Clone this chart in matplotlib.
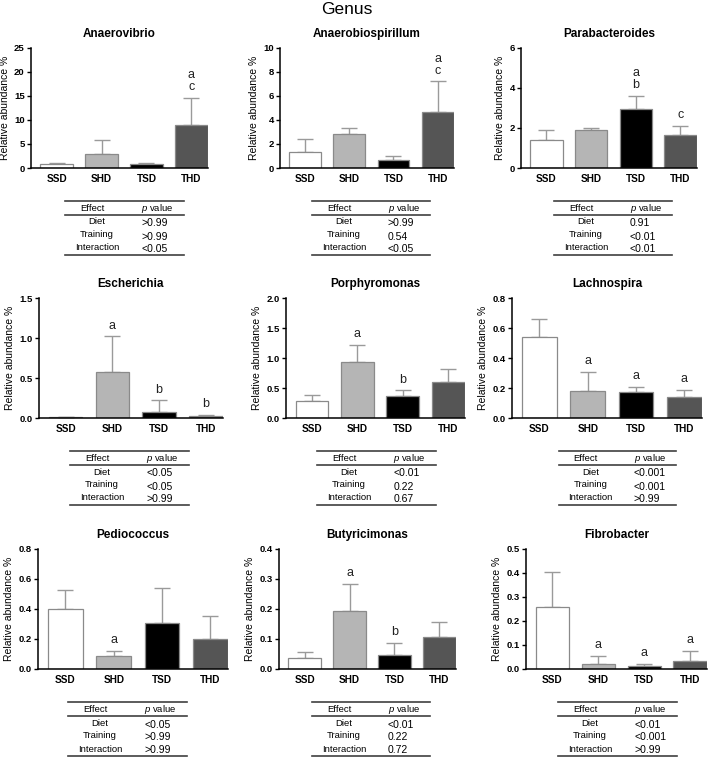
import numpy as np
import matplotlib
matplotlib.use("Agg")
import matplotlib.pyplot as plt
from matplotlib.lines import Line2D

plt.rcParams['font.family'] = ['Liberation Sans', 'DejaVu Sans']
plt.rcParams['mathtext.fontset'] = 'custom'
plt.rcParams['mathtext.it'] = 'Liberation Sans:italic'
plt.rcParams['mathtext.rm'] = 'Liberation Sans'

# ---- data ----
groups = ['SSD', 'SHD', 'TSD', 'THD']
genera = ['Anaerovibrio', 'Anaerobiospirillum', 'Parabacteroides',
          'Escherichia', 'Porphyromonas', 'Lachnospira',
          'Pediococcus', 'Butyricimonas', 'Fibrobacter']

means = [
    [0.8, 2.9, 0.85, 9.0],
    [1.35, 2.8, 0.65, 4.65],
    [1.4, 1.9, 2.92, 1.63],
    [0.01, 0.58, 0.08, 0.02],
    [0.28, 0.93, 0.37, 0.60],
    [0.54, 0.18, 0.175, 0.14],
    [0.40, 0.088, 0.305, 0.20],
    [0.037, 0.195, 0.048, 0.108],
    [0.26, 0.022, 0.012, 0.035],
]
sems = [
    [0.2, 2.95, 0.1, 5.5],
    [1.05, 0.5, 0.35, 2.55],
    [0.48, 0.1, 0.68, 0.45],
    [0.005, 0.44, 0.14, 0.02],
    [0.11, 0.29, 0.09, 0.21],
    [0.12, 0.125, 0.035, 0.05],
    [0.125, 0.03, 0.235, 0.155],
    [0.02, 0.09, 0.04, 0.049],
    [0.145, 0.033, 0.01, 0.04],
]
letters = [
    ['', '', '', 'a\nc'],
    ['', '', '', 'a\nc'],
    ['', '', 'a\nb', 'c'],
    ['', 'a', 'b', 'b'],
    ['', 'a', 'b', ''],
    ['', 'a', 'a', 'a'],
    ['', 'a', '', ''],
    ['', 'a', 'b', ''],
    ['', 'a', 'a', 'a'],
]
ymax = [25, 10, 6, 1.5, 2.0, 0.8, 0.8, 0.4, 0.5]
ystep = [5, 2, 2, 0.5, 0.5, 0.2, 0.2, 0.1, 0.1]

effects = ['Diet', 'Training', 'Interaction']
pvalues = [
    ['>0.99', '>0.99', '<0.05'],
    ['>0.99', '0.54', '<0.05'],
    ['0.91', '<0.01', '<0.01'],
    ['<0.05', '<0.05', '>0.99'],
    ['<0.01', '0.22', '0.67'],
    ['<0.001', '<0.001', '>0.99'],
    ['<0.05', '>0.99', '>0.99'],
    ['<0.01', '0.22', '0.72'],
    ['<0.01', '<0.001', '>0.99'],
]

bar_colors = ['white', '#b5b5b5', '#000000', '#555555']

# ---- layout (pixels in a 709x757 canvas) ----
W, H = 709, 757
ax_x = [(31, 208), (280, 454), (521, 697),
        (39, 223), (286, 465), (512, 702),
        (38, 228), (279, 456), (526, 707)]
row_y = [(47.7, 168), (298, 418), (549, 669)]
tab_x = [(65, 184), (312, 430), (554, 672),
         (70, 189), (317, 436), (559, 676),
         (68, 187), (312, 430), (558, 677)]
tab_top = [201, 451, 702]

fig = plt.figure(figsize=(W / 100, H / 100), dpi=100)


def fx(px):
    return px / W


def fy(py):
    return 1 - py / H


fig.text(fx(347), fy(10), 'Genus', ha='center', va='center', fontsize=12.5)

for i, name in enumerate(genera):
    r = i // 3
    x0, x1 = ax_x[i]
    yt, yz = row_y[r]
    ax = fig.add_axes([fx(x0), fy(yz), (x1 - x0) / W, (yz - yt) / H])
    x = np.arange(len(groups))
    ax.bar(x, means[i], width=0.72, color=bar_colors, edgecolor='#8a8a8a',
           linewidth=0.9, zorder=2)
    ax.errorbar(x, means[i], yerr=[np.zeros(4), sems[i]], fmt='none',
                ecolor='#9a9a9a', elinewidth=1.0, capsize=5.5, capthick=1.0,
                zorder=1)
    for j, lab in enumerate(letters[i]):
        if lab:
            ax.annotate(lab, (x[j], means[i][j] + sems[i][j]),
                        xytext=(0, 3.5), textcoords='offset points',
                        ha='center', va='bottom', fontsize=9,
                        linespacing=1.0, color='#222222')
    ax.set_xlim(-0.57, 3.37)
    ax.set_ylim(0, ymax[i])
    ticks = np.arange(0, ymax[i] + ystep[i] / 2, ystep[i])
    ax.set_yticks(ticks)
    if ystep[i] >= 1:
        ax.set_yticklabels(['%d' % t for t in ticks])
    else:
        ax.set_yticklabels(['%.1f' % t for t in ticks])
    ax.set_xticks(x)
    ax.set_xticklabels(groups, fontweight='bold', fontsize=7.2)
    for t in ax.get_yticklabels():
        t.set_fontweight('bold')
        t.set_fontsize(6.8)
    ax.spines['top'].set_visible(False)
    ax.spines['right'].set_visible(False)
    ax.spines['left'].set_linewidth(1.1)
    ax.spines['bottom'].set_linewidth(1.1)
    ax.tick_params(axis='y', length=3, width=1, pad=1.5)
    ax.tick_params(axis='x', length=0, pad=4)
    ax.set_ylabel('Relative abundance %', fontsize=7.5, labelpad=3)
    ax.set_title(name, fontsize=8.5, fontweight='bold', pad=8)

    # p value table under each panel
    tx0, tx1 = tab_x[i]
    T = tab_top[r]
    tw = tx1 - tx0
    for yy in (T, T + 14, T + 54):
        fig.add_artist(Line2D([fx(tx0), fx(tx1)], [fy(yy), fy(yy)],
                              color='#404040', linewidth=1.2))
    fig.text(fx(tx0 + 0.23 * tw), fy(T + 7.3), 'Effect', ha='center',
             va='center', fontsize=6.8)
    fig.text(fx(tx0 + 0.64 * tw), fy(T + 7.3), r'$\it{p}$ value', ha='left',
             va='center', fontsize=6.8)
    lab_y = [T + 21, T + 33.5, T + 47]
    val_y = [T + 22.5, T + 35.5, T + 48]
    for k, eff in enumerate(effects):
        fig.text(fx(tx0 + 0.27 * tw), fy(lab_y[k]), eff, ha='center',
                 va='center', fontsize=6.8)
        fig.text(fx(tx0 + 0.64 * tw), fy(val_y[k]), pvalues[i][k],
                 ha='left', va='center', fontsize=7.5)

fig.savefig('out.png', dpi=100, facecolor='white')
